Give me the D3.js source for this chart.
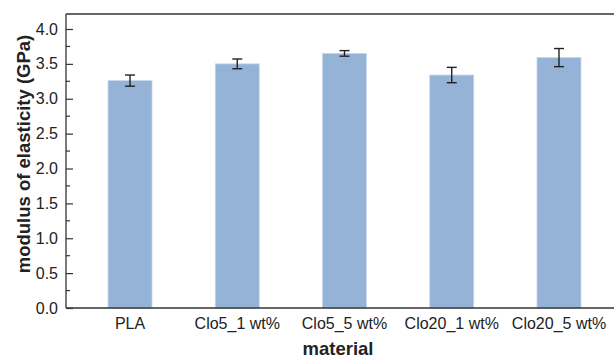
<!DOCTYPE html>
<html><head><meta charset="utf-8">
<script src="https://cdn.jsdelivr.net/npm/d3@7"></script>
<style>body{margin:0;background:#fff}svg{display:block}text{font-family:"Liberation Sans",Arial,sans-serif}</style>
</head><body>
<script>
const categories = ["PLA", "Clo5_1 wt%", "Clo5_5 wt%", "Clo20_1 wt%", "Clo20_5 wt%"];
const values = [3.26, 3.50, 3.65, 3.34, 3.59];
const errors = [0.08, 0.07, 0.04, 0.11, 0.13];
const yTicks = [0.0, 0.5, 1.0, 1.5, 2.0, 2.5, 3.0, 3.5, 4.0];

(function () {
const W = 614, H = 358;
const svg = d3.select("body").append("svg").attr("width", W).attr("height", H);
const mLeft = 66, mTop = 14, mBottom = 308, plotRight = 640;

const x = d3.scaleBand().domain(categories).range([76.4, 612.6]).paddingInner(0.59).paddingOuter(0.295);
const y = d3.scaleLinear().domain([0, 4.215]).range([mBottom, mTop]);

// bars
svg.append("g").selectAll("rect").data(values).join("rect")
  .attr("x", (d, i) => x(categories[i]))
  .attr("y", d => y(d))
  .attr("width", x.bandwidth())
  .attr("height", d => y(0) - y(d))
  .attr("fill", "#95b3d7")
  .attr("stroke", "#c5d6ea").attr("stroke-width", 0.8);

// error bars
const eg = svg.append("g").attr("stroke", "#222").attr("stroke-width", 1.4);
values.forEach((v, i) => {
  const cx = x(categories[i]) + x.bandwidth() / 2;
  eg.append("line").attr("x1", cx).attr("x2", cx).attr("y1", y(v + errors[i])).attr("y2", y(v - errors[i]));
  eg.append("line").attr("x1", cx - 5).attr("x2", cx + 5).attr("y1", y(v + errors[i])).attr("y2", y(v + errors[i]));
  eg.append("line").attr("x1", cx - 5).attr("x2", cx + 5).attr("y1", y(v - errors[i])).attr("y2", y(v - errors[i]));
});

// frame
svg.append("line").attr("x1", mLeft).attr("x2", plotRight).attr("y1", mTop).attr("y2", mTop).attr("stroke", "#333").attr("stroke-width", 1.3);

// y axis with inward ticks
const yAxis = d3.axisRight(y).tickValues(yTicks).tickFormat(d3.format(".1f")).tickSize(7);
const ya = svg.append("g").attr("transform", `translate(${mLeft},0)`).call(yAxis);
ya.select(".domain").attr("stroke", "#333").attr("stroke-width", 1.3).attr("d", `M0,${mTop}V${mBottom}`);
ya.selectAll(".tick line").attr("stroke", "#333").attr("stroke-width", 1.2);
ya.selectAll(".tick text").attr("x", -8).attr("text-anchor", "end").attr("font-size", 16).attr("fill", "#222")
  .attr("font-family", '"Liberation Sans",Arial,sans-serif');
// minor ticks
const minor = d3.range(0.25, 4.2, 0.5);
svg.append("g").selectAll("line").data(minor).join("line")
  .attr("x1", mLeft).attr("x2", mLeft + 4).attr("y1", d => y(d)).attr("y2", d => y(d))
  .attr("stroke", "#333").attr("stroke-width", 1.2);

// x axis
const xAxis = d3.axisBottom(x).tickSize(0).tickPadding(10);
const xa = svg.append("g").attr("transform", `translate(0,${mBottom})`).call(xAxis);
xa.select(".domain").attr("stroke", "#333").attr("stroke-width", 1.3).attr("d", `M${mLeft},0H${plotRight}`);
xa.selectAll(".tick text").attr("font-size", 16).attr("fill", "#222")
  .attr("font-family", '"Liberation Sans",Arial,sans-serif');

// axis titles
svg.append("text").attr("transform", `translate(30,154) rotate(-90)`).attr("text-anchor", "middle")
  .attr("font-size", 18.5).attr("font-weight", "bold").attr("fill", "#222").text("modulus of elasticity (GPa)");
svg.append("text").attr("x", 338).attr("y", 355).attr("text-anchor", "middle")
  .attr("font-size", 18.5).attr("font-weight", "bold").attr("fill", "#222").text("material");
})();
</script>
</body></html>
